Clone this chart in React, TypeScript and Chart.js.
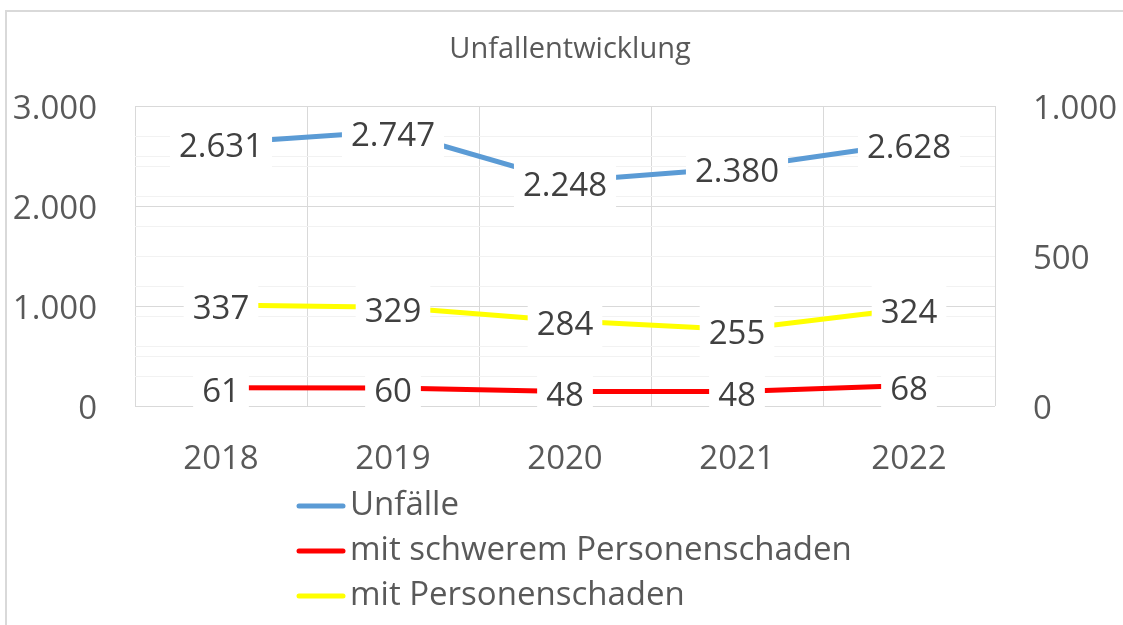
import React, { useEffect, useRef } from 'react';
import { Chart, registerables } from 'chart.js';
Chart.register(...registerables);

const chartTitle = 'Unfallentwicklung';
const categories = ['2018', '2019', '2020', '2021', '2022'];
const unfaelle = [2631, 2747, 2248, 2380, 2628];
const schwerPersonenschaden = [61, 60, 48, 48, 68];
const personenschaden = [337, 329, 284, 255, 324];
const seriesNames = ['Unfälle', 'mit schwerem Personenschaden', 'mit Personenschaden'];
const seriesColors = ['#5B9BD5', '#FF0000', '#FFFF00'];
const leftAxisMax = 3000;
const rightAxisMax = 1000;

const FONT = '"Open Sans", "Noto Sans", sans-serif';
const fmt = (v: number) => String(Math.round(v)).replace(/\B(?=(\d{3})+(?!\d))/g, '.');

const labelPlugin = {
  id: 'excelLabels',
  afterDatasetsDraw(chart: any) {
    const ctx = chart.ctx;
    ctx.save();
    ctx.font = `33px ${FONT}`;
    ctx.textAlign = 'center';
    ctx.textBaseline = 'middle';
    chart.data.datasets.forEach((ds: any, i: number) => {
      const meta = chart.getDatasetMeta(i);
      meta.data.forEach((el: any, j: number) => {
        const t = fmt(ds.data[j]);
        const w = ctx.measureText(t).width;
        ctx.fillStyle = '#ffffff';
        ctx.fillRect(el.x - w / 2 - 9, el.y - 24, w + 18, 52);
        ctx.fillStyle = '#404040';
        ctx.fillText(t, el.x, el.y + 5);
      });
    });
    ctx.restore();
  },
};

const decorPlugin = {
  id: 'decor',
  afterDraw(chart: any) {
    const ctx = chart.ctx;
    ctx.save();
    ctx.fillStyle = '#595959';
    ctx.font = `29px ${FONT}`;
    ctx.textAlign = 'center';
    ctx.textBaseline = 'middle';
    ctx.fillText(chartTitle, 570, 50);
    chart.data.datasets.forEach((ds: any, i: number) => {
      const y = 506 + i * 45;
      ctx.strokeStyle = ds.borderColor;
      ctx.lineWidth = 5;
      ctx.lineCap = 'round';
      ctx.beginPath();
      ctx.moveTo(299, y);
      ctx.lineTo(343, y);
      ctx.stroke();
      ctx.fillStyle = '#595959';
      ctx.font = `33px ${FONT}`;
      ctx.textAlign = 'left';
      ctx.fillText(ds.label, 350, y);
    });
    ctx.restore();
  },
};

export default function App() {
  const ref = useRef<HTMLCanvasElement>(null);
  useEffect(() => {
    document.body.style.margin = '0';
    const chart = new Chart(ref.current!, {
      type: 'line',
      data: {
        labels: categories,
        datasets: [
          { label: seriesNames[0], data: unfaelle, yAxisID: 'y', borderColor: seriesColors[0] },
          { label: seriesNames[1], data: schwerPersonenschaden, yAxisID: 'y1', borderColor: seriesColors[1] },
          { label: seriesNames[2], data: personenschaden, yAxisID: 'y1', borderColor: seriesColors[2] },
        ].map((d) => ({
          ...d,
          borderWidth: 5,
          pointRadius: 0,
          tension: 0,
          fill: false,
          borderCapStyle: 'round' as const,
          backgroundColor: d.borderColor,
        })),
      },
      options: {
        animation: false,
        responsive: false,
        layout: { padding: { top: 106, left: 0, right: 0, bottom: 0 } },
        plugins: { legend: { display: false }, title: { display: false }, tooltip: { enabled: false } },
        scales: {
          x: {
            offset: true,
            grid: { offset: true, color: '#d9d9d9', drawTicks: false, lineWidth: 1 },
            border: { display: false },
            ticks: { color: '#595959', font: { family: FONT, size: 33 }, padding: 34 },
            afterFit: (s: any) => { s.height = 219; },
          },
          y: {
            position: 'left',
            min: 0,
            max: leftAxisMax,
            grid: {
              drawTicks: false,
              color: (c: any) => (c.tick && c.tick.value % 1000 === 0 ? '#d9d9d9' : '#f2f2f2'),
            },
            border: { display: false },
            ticks: {
              stepSize: 500,
              autoSkip: false,
              labelOffset: 4,
              color: '#595959',
              font: { family: FONT, size: 33 },
              padding: 38,
              callback: (v: any) => (Number(v) % 1000 === 0 ? fmt(Number(v)) : ''),
            },
            afterFit: (s: any) => { s.width = 135; },
          },
          y1: {
            position: 'right',
            min: 0,
            max: rightAxisMax,
            grid: {
              drawTicks: false,
              color: (c: any) =>
                c.tick && (c.tick.value === 0 || c.tick.value === rightAxisMax) ? 'rgba(0,0,0,0)' : '#f2f2f2',
            },
            border: { display: false },
            ticks: {
              stepSize: 100,
              autoSkip: false,
              labelOffset: 4,
              color: '#595959',
              font: { family: FONT, size: 33 },
              padding: 38,
              callback: (v: any) => (Number(v) % 500 === 0 ? fmt(Number(v)) : ''),
            },
            afterFit: (s: any) => { s.width = 128; },
          },
        },
      },
      plugins: [labelPlugin, decorPlugin],
    });
    return () => chart.destroy();
  }, []);
  return (
    <div style={{ position: 'relative', width: 1123, height: 625, overflow: 'hidden' }}>
      <div
        style={{
          position: 'absolute',
          left: 5,
          top: 10,
          width: 1200,
          height: 700,
          borderLeft: '2px solid #d9d9d9',
          borderTop: '2px solid #d9d9d9',
        }}
      />
      <canvas ref={ref} width={1123} height={625} style={{ position: 'absolute', left: 0, top: 0 }} />
    </div>
  );
}
